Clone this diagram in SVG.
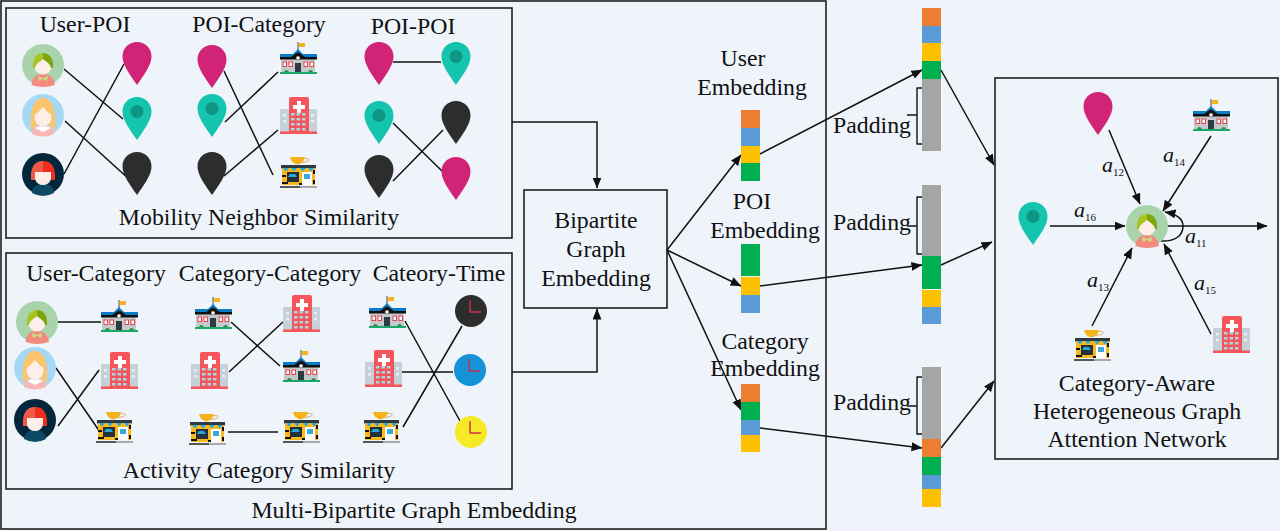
<svg xmlns="http://www.w3.org/2000/svg" xmlns:xlink="http://www.w3.org/1999/xlink" width="1280" height="531" viewBox="0 0 1280 531">
<style>
.t{font-family:"Liberation Serif","Times New Roman",serif;font-size:23.8px;fill:#111;text-anchor:middle}
.w{font-family:"Liberation Serif","Times New Roman",serif;font-size:22px;font-style:italic;fill:#111}
.w tspan{font-size:11px;font-style:normal}
.box{fill:none;stroke:#111;stroke-width:1.5}
.l{fill:none;stroke:#111;stroke-width:1.5}
.a{fill:none;stroke:#111;stroke-width:1.5;marker-end:url(#arr)}
.br{fill:none;stroke:#111;stroke-width:1.4;stroke-linejoin:round}
</style>
<defs>
<marker id="arr" markerUnits="userSpaceOnUse" markerWidth="12" markerHeight="10" refX="10.500" refY="4.500" orient="auto"><path d="M0 0L11 4.500L0 9Z" fill="#111"/></marker>
<path id="pinShape" d="M0 0C8.500 0 14.500 6.500 14.500 14.500C14.500 23 7 33 0 43C-7 33-14.500 23-14.500 14.500C-14.500 6.500-8.500 0 0 0Z"/>
<use id="pinPink" xlink:href="#pinShape" fill="#d12378"/>
<use id="pinDark" xlink:href="#pinShape" fill="#2d2d2d"/>
<g id="pinTeal"><use xlink:href="#pinShape" fill="#14c4ae"/><circle cy="14.500" r="6.500" fill="#0f9583"/></g>
<g id="user1"><circle r="21" fill="#a9d3aa"/><path d="M-11.500 20C-11 12-6 9 0 9S11 12 12 20Q0 24-11.500 20Z" fill="#f28b7d"/><path d="M-5 11L0 13L5 11L4 16L0 14L-4 16Z" fill="#c9de7d"/><ellipse cy="0" rx="9" ry="9.500" fill="#fdeeea"/><path d="M-10 3C-11-7-6-12 0-12L0-6C-3-3-7-2-8 3Z" fill="#a9c322"/><path d="M10 3C11-7 6-12 0-12L0-6C3-3 7-2 8 3Z" fill="#7da60e"/></g>
<g id="user2"><circle r="21" fill="#a5d8f5"/><path d="M-11 19C-11 13-6 10 0 10S11 13 11 19Q0 24-11 19Z" fill="#f9b7b7"/><path d="M-12 15C-13 2-12-17 0-17S13 2 12 15Q8 14 7 10L-7 10Q-8 14-12 15Z" fill="#fbc56e"/><ellipse cy="2" rx="8.500" ry="9.500" fill="#fdeeea"/><path d="M-9 0Q-3-3 0-9Q3-3 9 0L9-7Q4-12 0-12Q-4-12-9-7Z" fill="#fbc56e"/><path d="M-8 13Q-3 10 0 12Q3 10 8 13L0 17Z" fill="#fff"/></g>
<g id="user3"><circle r="21" fill="#02263c"/><path d="M-11 19C-11 13-6 10 0 10S11 13 11 19Q0 25-11 19Z" fill="#0e4a63"/><path d="M-12 6C-13-6-9-13 0-13L0 6Z" fill="#ef5a48"/><path d="M12 6C13-6 9-13 0-13L0 6Z" fill="#ee2d1c"/><path d="M-8-2L8-2L8 5Q6 11 0 11Q-6 11-8 5Z" fill="#fdeeea"/></g>
<g id="school"><path d="M18 0V10" stroke="#222" stroke-width=".8"/><path d="M19 1H25V5H19Z" fill="#f5b21b"/><path d="M1 16L18 10L35 16V31H1Z" fill="#c4c9cb"/><path d="M0 12H13L18 7L23 12H37V16H25L18 10L11 16H0Z" fill="#0a7cc7"/><path d="M0 15H11L18 10L25 15H37V17.500H0Z" fill="#111"/><circle cx="18" cy="16" r="2" fill="#fff" stroke="#333" stroke-width=".5"/><path d="M15 21H21V30H15Z" fill="#2e3b44"/><g fill="#fff" stroke="#e8434c" stroke-width="1"><rect x="3" y="20" width="3.500" height="4.500"/><rect x="9" y="20" width="3.500" height="4.500"/><rect x="24" y="20" width="3.500" height="4.500"/><rect x="30" y="20" width="3.500" height="4.500"/></g><path d="M0 30H37V32H0Z" fill="#1aa868"/><path d="M4 30Q6 26 9 30ZM28 30Q31 26 33 30Z" fill="#2a8a45"/></g>
<g id="hospital"><path d="M0 13Q0 12 2 12H35Q37 12 37 13V35H0Z" fill="#c5d1d8"/><path d="M9 2Q9 0 11 0H27Q29 0 29 2V35H9Z" fill="#f5555b"/><path d="M17 4H21V8H25V12H21V16H17V12H13V8H17Z" fill="#fff"/><g fill="#a9d8e2"><rect x="11" y="16" width="3.500" height="2.500"/><rect x="16.500" y="16" width="3.500" height="2.500"/><rect x="22" y="16" width="3.500" height="2.500"/><rect x="11" y="21" width="3.500" height="2.500"/><rect x="16.500" y="21" width="3.500" height="2.500"/><rect x="22" y="21" width="3.500" height="2.500"/><rect x="11" y="26" width="3.500" height="2.500"/><rect x="16.500" y="26" width="3.500" height="2.500"/><rect x="22" y="26" width="3.500" height="2.500"/><rect x="11" y="31" width="3.500" height="2.500"/><rect x="16.500" y="31" width="3.500" height="2.500"/><rect x="22" y="31" width="3.500" height="2.500"/></g><g fill="#e8eef1"><rect x="3" y="17" width="3" height="2.500"/><rect x="3" y="23" width="3" height="2.500"/><rect x="31" y="17" width="3" height="2.500"/><rect x="31" y="23" width="3" height="2.500"/></g><path d="M0 34.500H37V37H0Z" fill="#f5555b"/></g>
<g id="cafe"><path d="M10 0H25Q24 6 17.500 7.500Q11 6 10 0Z" fill="#f5b21b"/><path d="M25 1.500Q30 1 29 3.500Q28 5 22 5.500" fill="none" stroke="#d9a860" stroke-width=".9"/><path d="M1 8H36V11.500H1Z" fill="#2f3a42"/><path d="M2 11H35V28H2Z" fill="#f9b81c"/><path d="M3 11H9L6 14.500ZM11 11H17L14 14.500ZM20 11H26L23 14.500ZM28 11H34L31 14.500Z" fill="#2aa8dc"/><path d="M7 15H19V25H7Z" fill="#22303a"/><path d="M10 17H15L17 20H8Z" fill="#2aa8dc"/><path d="M22 15H32V28H22Z" fill="#fff"/><path d="M24 17H30V22H24Z" fill="#3aa8dc"/><path d="M2 18H6V20H2ZM2 25H8V27H2ZM33 13H35V17H33ZM33 23H35V27H33ZM19 26H22V28H19Z" fill="#111"/><path d="M0 29H37V31H0Z" fill="#55585a"/><path d="M20 29H37V31H20Z" fill="#aaa"/></g>
<g id="hands"><path d="M-1-11V1H10" fill="none" stroke="#d02c4a" stroke-width="1.400"/></g>
</defs>
<rect width="1280" height="531" fill="#eff4fb"/>

<g id="frames">
<rect class="box" x="1" y="1" width="825" height="528"/>
<rect class="box" x="6" y="8" width="506" height="230"/>
<rect class="box" x="6" y="253" width="506" height="236"/>
</g>

<g id="connectors">
<path class="l" d="M64 69L123 119M65 121L130 180M64 174L124 64"/>
<path class="l" d="M224 71L273 175M225 122L278 72M224 176L278 130"/>
<path class="l" d="M393 62H441M393 123L443 172M393 181L443 130"/>
<path class="l" d="M58 322H101M56 368L100 432M58 426L99 370"/>
<path class="l" d="M231 322L280 366M229 372L283 322M228 432H278"/>
<path class="l" d="M405 321L460 421M402 372H453M403 427L462 326"/>
<path class="a" d="M512 122H597V188"/>
<path class="a" d="M512 372H597V309"/>
<path class="a" d="M667 250L741 155"/>
<path class="a" d="M667 250L741 286"/>
<path class="a" d="M667 250L741 410"/>
<path class="a" d="M760 154L922 70"/>
<path class="a" d="M760 286L922 265"/>
<path class="a" d="M760 428L922 448"/>
<path class="a" d="M941 70L994 165"/>
<path class="a" d="M941 265L992 242"/>
<path class="a" d="M941 448L994 381"/>
<path class="a" d="M1109 130L1140 204"/>
<path class="a" d="M1211 136L1163 211"/>
<path class="a" d="M1050 226H1125"/>
<path class="a" d="M1168 226H1267"/>
<path class="a" d="M1160 241C1176 242 1183 235 1183 226C1183 219 1176 214 1165 212"/>
<path class="a" d="M1092 326L1132 248"/>
<path class="a" d="M1211 334L1164 244"/>
<path class="br" d="M922 88H917V144H922M917 115H907"/>
<path class="br" d="M922 197H917V254H922M917 226H907"/>
<path class="br" d="M922 377H917V434H922M917 406H907"/>
</g>

<g id="labels">
<text class="t" x="85" y="32">User-POI</text>
<text class="t" x="259" y="32">POI-Category</text>
<text class="t" x="413" y="34">POI-POI</text>
<text class="t" x="259" y="225">Mobility Neighbor Similarity</text>
<text class="t" x="96" y="281">User-Category</text>
<text class="t" x="270" y="281">Category-Category</text>
<text class="t" x="439" y="281">Cateory-Time</text>
<text class="t" x="259" y="478">Activity Category Similarity</text>
<text class="t" x="414" y="518">Multi-Bipartite Graph Embedding</text>
<text class="t" x="743" y="66">User</text>
<text class="t" x="752" y="95">Embedding</text>
<text class="t" x="752" y="209">POI</text>
<text class="t" x="765" y="238">Embedding</text>
<text class="t" x="765" y="349">Category</text>
<text class="t" x="765" y="376">Embedding</text>
<text class="t" x="872" y="133">Padding</text>
<text class="t" x="872" y="230">Padding</text>
<text class="t" x="872" y="410">Padding</text>
</g>

<g id="user-poi">
<use xlink:href="#user1" x="43" y="65"/><use xlink:href="#user2" x="43" y="115"/><use xlink:href="#user3" x="43" y="174"/>
<use xlink:href="#pinPink" x="137" y="42"/><use xlink:href="#pinTeal" x="137" y="97"/><use xlink:href="#pinDark" x="137" y="152"/>
</g>
<g id="poi-category">
<use xlink:href="#pinPink" x="212" y="45"/><use xlink:href="#pinTeal" x="212" y="94"/><use xlink:href="#pinDark" x="212" y="152"/>
<use xlink:href="#school" x="280" y="42"/><use xlink:href="#hospital" x="280" y="97"/><use xlink:href="#cafe" x="280" y="157"/>
</g>
<g id="poi-poi">
<use xlink:href="#pinPink" x="379" y="42"/><use xlink:href="#pinTeal" x="456" y="42"/>
<use xlink:href="#pinTeal" x="379" y="101"/><use xlink:href="#pinDark" x="456" y="101"/>
<use xlink:href="#pinDark" x="379" y="155"/><use xlink:href="#pinPink" x="456" y="157"/>
</g>
<g id="user-category">
<use xlink:href="#user1" x="37" y="322"/><use xlink:href="#user2" x="35" y="368"/><use xlink:href="#user3" x="35" y="420"/>
<use xlink:href="#school" x="101" y="300"/><use xlink:href="#hospital" x="101" y="352"/><use xlink:href="#cafe" x="96" y="412"/>
</g>
<g id="category-category">
<use xlink:href="#school" x="195" y="297"/><use xlink:href="#hospital" x="191" y="352"/><use xlink:href="#cafe" x="189" y="414"/>
<use xlink:href="#hospital" x="283" y="295"/><use xlink:href="#school" x="283" y="350"/><use xlink:href="#cafe" x="283" y="412"/>
</g>
<g id="category-time">
<use xlink:href="#school" x="369" y="296"/><use xlink:href="#hospital" x="365" y="350"/><use xlink:href="#cafe" x="363" y="412"/>
<circle cx="471" cy="311" r="16" fill="#2d2d2d"/><use xlink:href="#hands" x="471" y="311"/>
<circle cx="470" cy="370" r="16" fill="#1592d8"/><use xlink:href="#hands" x="470" y="370"/>
<circle cx="471" cy="432" r="16" fill="#f6e926"/><use xlink:href="#hands" x="471" y="432"/>
</g>

<g id="bipartite-graph-embedding">
<rect x="524" y="190" width="143" height="118" fill="none" stroke="#111" stroke-width="1.500"/>
<text class="t" x="596" y="228">Bipartite</text><text class="t" x="596" y="257">Graph</text><text class="t" x="596" y="286">Embedding</text>
</g>

<g id="user-embedding">
<rect x="741" y="110" width="19" height="18" fill="#ed7d31"/><rect x="741" y="128" width="19" height="18" fill="#5b9bd5"/><rect x="741" y="146" width="19" height="17" fill="#ffc000"/><rect x="741" y="163" width="19" height="18" fill="#00b050"/>
</g>
<g id="poi-embedding">
<rect x="741" y="244" width="19" height="32" fill="#00b050"/><rect x="741" y="277" width="19" height="18" fill="#ffc000"/><rect x="741" y="295" width="19" height="18" fill="#5b9bd5"/>
</g>
<g id="category-embedding">
<rect x="741" y="384" width="19" height="18" fill="#ed7d31"/><rect x="741" y="402" width="19" height="18" fill="#00b050"/><rect x="741" y="420" width="19" height="15" fill="#5b9bd5"/><rect x="741" y="435" width="19" height="17" fill="#ffc000"/>
</g>
<g id="user-padded">
<rect x="922" y="8" width="19" height="18" fill="#ed7d31"/><rect x="922" y="26" width="19" height="17" fill="#5b9bd5"/><rect x="922" y="43" width="19" height="18" fill="#ffc000"/><rect x="922" y="61" width="19" height="18" fill="#00b050"/><rect x="922" y="79" width="19" height="72" fill="#a5a5a5"/>
</g>
<g id="poi-padded">
<rect x="922" y="185" width="19" height="71" fill="#a5a5a5"/><rect x="922" y="256" width="19" height="33" fill="#00b050"/><rect x="922" y="290" width="19" height="17" fill="#ffc000"/><rect x="922" y="307" width="19" height="17" fill="#5b9bd5"/>
</g>
<g id="category-padded">
<rect x="922" y="367" width="19" height="72" fill="#a5a5a5"/><rect x="922" y="439" width="19" height="18" fill="#ed7d31"/><rect x="922" y="457" width="19" height="18" fill="#00b050"/><rect x="922" y="475" width="19" height="14" fill="#5b9bd5"/><rect x="922" y="489" width="19" height="18" fill="#ffc000"/>
</g>

<g id="attention-network">
<rect class="box" x="995" y="78" width="283" height="381"/>
<use xlink:href="#pinPink" x="1098" y="92"/>
<use xlink:href="#school" x="1193" y="99"/>
<use xlink:href="#pinTeal" x="1033" y="202"/>
<use xlink:href="#user1" x="1147" y="226"/>
<use xlink:href="#cafe" x="1074" y="330"/>
<use xlink:href="#hospital" x="1213" y="316"/>
<text class="w" x="1102" y="172">a<tspan dy="4">12</tspan></text>
<text class="w" x="1163" y="162">a<tspan dy="4">14</tspan></text>
<text class="w" x="1074" y="217">a<tspan dy="4">16</tspan></text>
<text class="w" x="1185" y="243">a<tspan dy="4">11</tspan></text>
<text class="w" x="1087" y="287">a<tspan dy="4">13</tspan></text>
<text class="w" x="1194" y="290">a<tspan dy="4">15</tspan></text>
<text class="t" x="1137" y="391">Category-Aware</text>
<text class="t" x="1137" y="419">Heterogeneous Graph</text>
<text class="t" x="1137" y="447">Attention Network</text>
</g>
</svg>
